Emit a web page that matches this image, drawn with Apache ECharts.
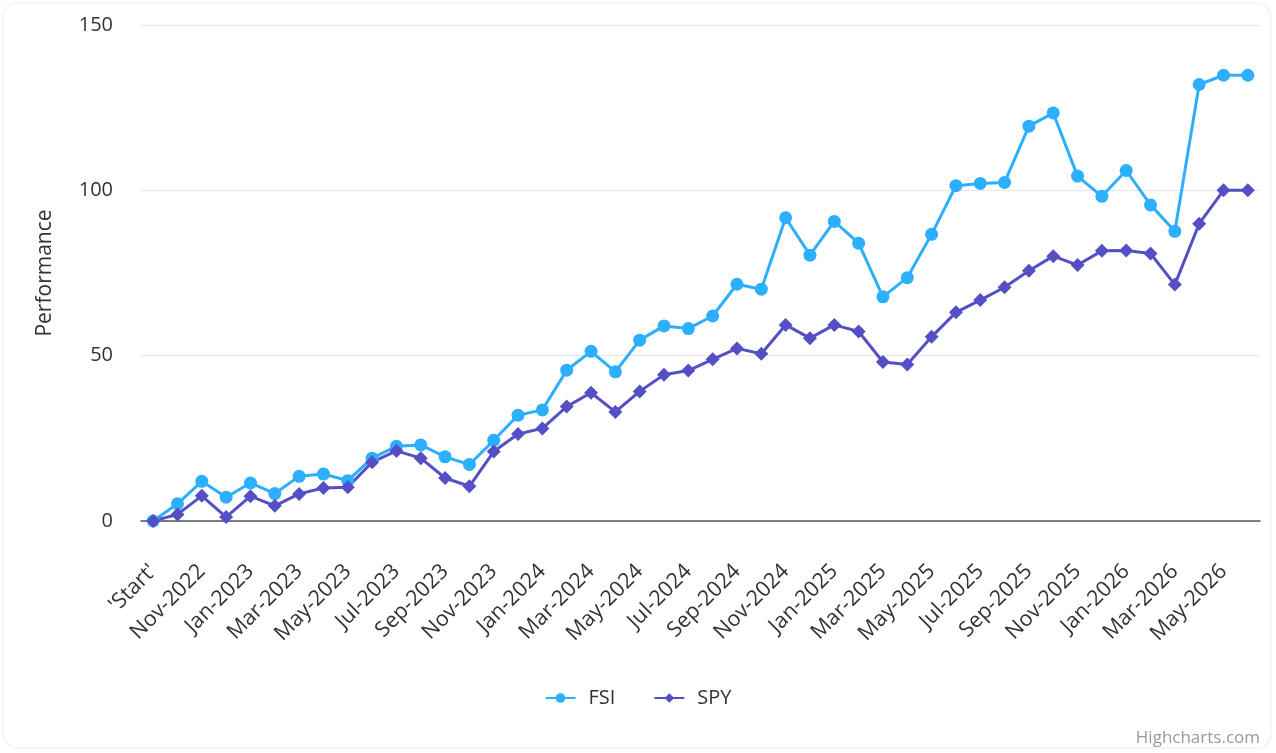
<!DOCTYPE html>
<html>
<head>
<meta charset="utf-8">
<script src="https://cdn.jsdelivr.net/npm/echarts@6/dist/echarts.min.js"></script>
<style>
html,body{margin:0;padding:0;background:#fff;}
#wrap{position:absolute;left:4px;top:4px;width:1266px;height:743px;border-radius:14px;box-shadow:0 0 4px rgba(0,0,0,0.12);}
#chart{position:absolute;left:0;top:0;width:1276px;height:753px;}
</style>
</head>
<body>
<div id="wrap"></div>
<div id="chart"></div>
<script>
var categories = ["'Start'","Oct-2022","Nov-2022","Dec-2022","Jan-2023","Feb-2023","Mar-2023","Apr-2023","May-2023","Jun-2023","Jul-2023","Aug-2023","Sep-2023","Oct-2023","Nov-2023","Dec-2023","Jan-2024","Feb-2024","Mar-2024","Apr-2024","May-2024","Jun-2024","Jul-2024","Aug-2024","Sep-2024","Oct-2024","Nov-2024","Dec-2024","Jan-2025","Feb-2025","Mar-2025","Apr-2025","May-2025","Jun-2025","Jul-2025","Aug-2025","Sep-2025","Oct-2025","Nov-2025","Dec-2025","Jan-2026","Feb-2026","Mar-2026","Apr-2026","May-2026","Jun-2026"];
var fsiValues = [0,5.2,12,7.2,11.5,8.3,13.5,14.2,12.2,19,22.6,23,19.4,17.1,24.4,32,33.6,45.6,51.3,45.1,54.7,59,58.2,62,71.6,70.1,91.7,80.4,90.6,84,67.8,73.6,86.7,101.4,102.1,102.4,119.4,123.4,104.3,98.2,106,95.6,87.6,132,134.8,134.8];
var spyValues = [0,2,7.6,1.2,7.5,4.6,8.2,10,10.2,17.8,21.2,19,13,10.5,21,26.3,28,34.6,38.8,33,39.2,44.2,45.5,48.9,52.2,50.6,59.3,55.3,59.3,57.3,48.1,47.3,55.7,63.1,66.8,70.7,75.7,80.1,77.4,81.7,81.8,80.9,71.5,89.9,100,100];
var yTicks = [0,50,100,150];

var FONT = '"Open Sans", "Noto Sans", sans-serif';
var chart = echarts.init(document.getElementById('chart'));
chart.setOption({
  animation: false,
  color: ['#2caffe', '#544fc5'],
  grid: {left: 141, right: 16, top: 25, bottom: 232, containLabel: false},
  legend: {
    bottom: 40, left: 'center',
    itemWidth: 30, itemHeight: 12, itemGap: 38,
    textStyle: {fontFamily: FONT, fontSize: 20, color: '#333', padding: [0, 0, 0, 8]},
    data: ['FSI', 'SPY']
  },
  xAxis: {
    type: 'category',
    data: categories,
    boundaryGap: true,
    axisLine: {lineStyle: {color: '#555', width: 1.5}},
    axisTick: {show: false},
    axisLabel: {rotate: 45, interval: 1, margin: 47, fontFamily: FONT, fontSize: 21.5, color: '#333'}
  },
  yAxis: {
    type: 'value',
    min: yTicks[0], max: yTicks[yTicks.length - 1], interval: 50,
    name: 'Performance',
    nameLocation: 'middle',
    nameGap: 85,
    nameTextStyle: {fontFamily: FONT, fontSize: 21, color: '#333'},
    axisLine: {show: false},
    axisTick: {show: false},
    splitLine: {lineStyle: {color: '#e6e6e6'}},
    axisLabel: {margin: 28, fontFamily: FONT, fontSize: 20, color: '#333'}
  },
  series: [
    {name: 'FSI', type: 'line', data: fsiValues, symbol: 'circle', symbolSize: 13,
     lineStyle: {width: 3}, itemStyle: {color: '#2caffe'}},
    {name: 'SPY', type: 'line', data: spyValues, symbol: 'diamond', symbolSize: 14,
     lineStyle: {width: 3}, itemStyle: {color: '#544fc5'}}
  ],
  graphic: [{
    type: 'text', right: 16, bottom: 6,
    style: {text: 'Highcharts.com', fontFamily: FONT, fontSize: 17, fill: '#999'}
  }]
});
</script>
</body>
</html>
